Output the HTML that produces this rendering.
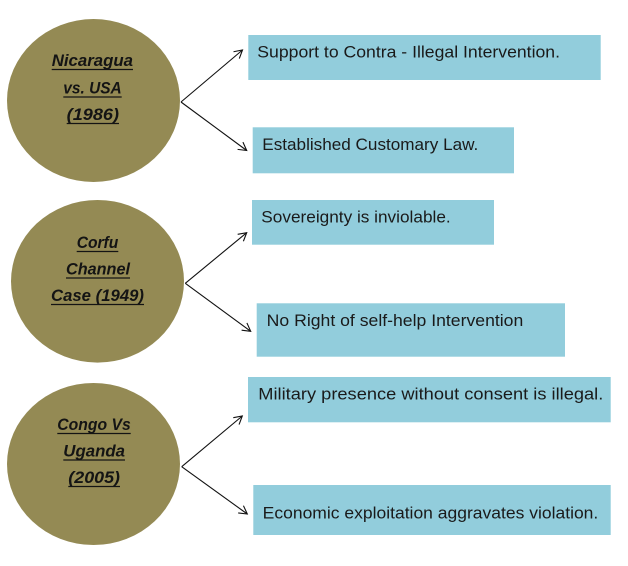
<!DOCTYPE html>
<html>
<head>
<meta charset="utf-8">
<style>
  html, body { margin: 0; padding: 0; background: #ffffff; }
  svg { display: block; }
  .ct { font-family: "Liberation Sans", sans-serif; font-weight: bold; font-style: italic; font-size: 17px; fill: #141414; }
  .bt { font-family: "Liberation Sans", sans-serif; font-size: 17px; fill: #1a1a1a; }
</style>
</head>
<body>
<svg width="628" height="566" viewBox="0 0 628 566" xmlns="http://www.w3.org/2000/svg">
  <defs>
    <marker id="ah" markerUnits="userSpaceOnUse" markerWidth="12" markerHeight="12" refX="9" refY="5" orient="auto">
      <path d="M1,0.5 L9,5 L1,9.5" fill="none" stroke="#111" stroke-width="1.1"/>
    </marker>
  </defs>
  <rect width="628" height="566" fill="#ffffff"/>

  <!-- Circles -->
  <ellipse cx="93.5" cy="100.5" rx="86.5" ry="81.5" fill="#948A54"/>
  <ellipse cx="97.5" cy="281.3" rx="86.5" ry="81.3" fill="#948A54"/>
  <ellipse cx="93.5" cy="464" rx="86.5" ry="81" fill="#948A54"/>

  <!-- Circle 1 text -->
  <text class="ct" x="51.7" y="66" textLength="81.3" lengthAdjust="spacingAndGlyphs">Nicaragua</text>
  <line x1="51.7" y1="69.5" x2="133" y2="69.5" stroke="#141414" stroke-width="1.2"/>
  <text class="ct" x="63.3" y="93.5" textLength="58.4" lengthAdjust="spacingAndGlyphs">vs. USA</text>
  <line x1="63.3" y1="97" x2="121.7" y2="97" stroke="#141414" stroke-width="1.2"/>
  <text class="ct" x="66.7" y="120" textLength="52.3" lengthAdjust="spacingAndGlyphs">(1986)</text>
  <line x1="66.7" y1="123.5" x2="119" y2="123.5" stroke="#141414" stroke-width="1.2"/>

  <!-- Circle 2 text -->
  <text class="ct" x="76.7" y="248" textLength="41.6" lengthAdjust="spacingAndGlyphs">Corfu</text>
  <line x1="76.7" y1="251.5" x2="118.3" y2="251.5" stroke="#141414" stroke-width="1.2"/>
  <text class="ct" x="66" y="274.5" textLength="64" lengthAdjust="spacingAndGlyphs">Channel</text>
  <line x1="66" y1="278" x2="130" y2="278" stroke="#141414" stroke-width="1.2"/>
  <text class="ct" x="51" y="301" textLength="93" lengthAdjust="spacingAndGlyphs">Case (1949)</text>
  <line x1="51" y1="304.5" x2="144" y2="304.5" stroke="#141414" stroke-width="1.2"/>

  <!-- Circle 3 text -->
  <text class="ct" x="57.3" y="430" textLength="73.4" lengthAdjust="spacingAndGlyphs">Congo Vs</text>
  <line x1="57.3" y1="433.5" x2="130.7" y2="433.5" stroke="#141414" stroke-width="1.2"/>
  <text class="ct" x="63.3" y="456.5" textLength="61.7" lengthAdjust="spacingAndGlyphs">Uganda</text>
  <line x1="63.3" y1="460" x2="125" y2="460" stroke="#141414" stroke-width="1.2"/>
  <text class="ct" x="68.3" y="483" textLength="51.7" lengthAdjust="spacingAndGlyphs">(2005)</text>
  <line x1="68.3" y1="486.5" x2="120" y2="486.5" stroke="#141414" stroke-width="1.2"/>

  <!-- Boxes -->
  <rect x="248.3" y="35" width="352.4" height="45" fill="#92CDDC"/>
  <rect x="252.7" y="127.3" width="261.3" height="46" fill="#92CDDC"/>
  <rect x="252" y="200" width="242" height="44.7" fill="#92CDDC"/>
  <rect x="256.7" y="303.3" width="308.3" height="53.4" fill="#92CDDC"/>
  <rect x="248" y="377" width="362.7" height="45.3" fill="#92CDDC"/>
  <rect x="253.3" y="485" width="357.4" height="50" fill="#92CDDC"/>

  <!-- Box text -->
  <text class="bt" x="257.3" y="57.3" textLength="302.7" lengthAdjust="spacingAndGlyphs">Support to Contra - Illegal Intervention.</text>
  <text class="bt" x="262.3" y="150" textLength="216" lengthAdjust="spacingAndGlyphs">Established  Customary Law.</text>
  <text class="bt" x="261.3" y="222.3" textLength="189.4" lengthAdjust="spacingAndGlyphs">Sovereignty is inviolable.</text>
  <text class="bt" x="266.7" y="326" textLength="256.6" lengthAdjust="spacingAndGlyphs">No Right of self-help Intervention</text>
  <text class="bt" x="258.3" y="399.3" textLength="345" lengthAdjust="spacingAndGlyphs">Military presence without consent is illegal.</text>
  <text class="bt" x="262.7" y="518.5" textLength="335.6" lengthAdjust="spacingAndGlyphs">Economic exploitation aggravates violation.</text>

  <!-- Arrows -->
  <g stroke="#111" stroke-width="1.1" fill="none">
    <line x1="181" y1="102" x2="242.5" y2="50" marker-end="url(#ah)"/>
    <line x1="181" y1="102" x2="246.7" y2="150.5" marker-end="url(#ah)"/>
    <line x1="185.3" y1="283.3" x2="246.7" y2="232.7" marker-end="url(#ah)"/>
    <line x1="185.3" y1="283.3" x2="250.7" y2="331.3" marker-end="url(#ah)"/>
    <line x1="181.7" y1="466.7" x2="242.3" y2="416" marker-end="url(#ah)"/>
    <line x1="181.7" y1="466.7" x2="247.3" y2="514" marker-end="url(#ah)"/>
  </g>
</svg>
</body>
</html>
